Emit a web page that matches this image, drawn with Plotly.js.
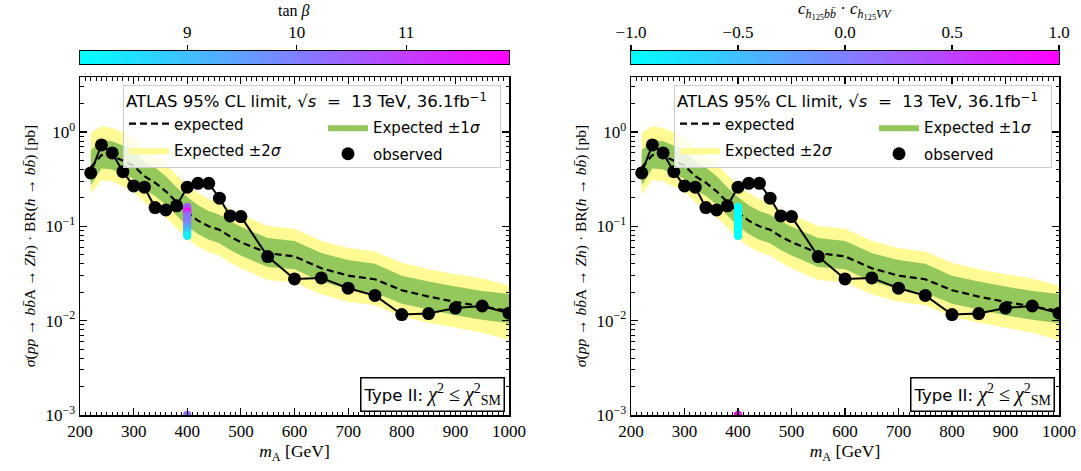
<!DOCTYPE html>
<html><head><meta charset="utf-8">
<script src="https://cdn.plot.ly/plotly-3.0.1.min.js"></script>
<style>
body{margin:0;padding:0;background:#fff;}
#wrap{display:flex;width:1081px;height:471px;}
#left{width:540px;height:471px;}
#right{width:541px;height:471px;}
</style>
</head><body>
<div id="wrap"><div id="left"></div><div id="right"></div></div>
<script>
// ---- data ----
const mA = [220,240,260,280,300,320,340,360,380,400,420,440,460,480,500,550,600,650,700,750,800,850,900,950,1000];
const observed = [0.368,0.73,0.60,0.38,0.268,0.26,0.158,0.149,0.165,0.26,0.286,0.286,0.199,0.129,0.127,0.0478,0.0277,0.0284,0.0221,0.0185,0.0116,0.0119,0.0136,0.0143,0.0120];
const expected = [0.42,0.57,0.56,0.50,0.44,0.34,0.29,0.235,0.18,0.14,0.115,0.10,0.092,0.078,0.068,0.052,0.048,0.036,0.030,0.0275,0.021,0.018,0.0158,0.0142,0.0127];
const sig1Up = [0.64,0.82,0.80,0.72,0.63,0.49,0.42,0.34,0.26,0.205,0.167,0.145,0.133,0.113,0.099,0.075,0.070,0.052,0.044,0.040,0.030,0.026,0.023,0.0206,0.0192];
const sig1Dn = [0.27,0.41,0.40,0.36,0.32,0.245,0.21,0.17,0.13,0.10,0.083,0.072,0.066,0.056,0.049,0.037,0.035,0.026,0.0216,0.0198,0.0151,0.013,0.0114,0.0102,0.0094];
const sig2Up = [0.98,1.15,1.10,0.99,0.87,0.67,0.57,0.46,0.35,0.275,0.225,0.195,0.18,0.152,0.133,0.101,0.094,0.070,0.059,0.054,0.041,0.035,0.031,0.028,0.0235];
const sig2Dn = [0.22,0.31,0.30,0.265,0.233,0.18,0.154,0.125,0.095,0.074,0.061,0.053,0.049,0.041,0.036,0.027,0.0254,0.019,0.0159,0.0146,0.0111,0.0095,0.0084,0.0075,0.0062];

// scan points (all at mA = 400 GeV)
const scanMA = [400,400,400,400,400,400,400,400,400,400,400,400,400,400,400,400,400,400,400,400,400,400];
const scanSigma = [0.161,0.157,0.152,0.148,0.144,0.140,0.136,0.131,0.126,0.121,0.116,0.111,0.106,0.101,0.097,0.093,0.089,0.085,0.082,0.079,0.001,0.001];
const scanTanb = [10.5,10.6,10.5,10.8,11.5,11.8,11.0,10.4,10.2,10.1,10.0,10.2,9.9,9.7,9.5,9.3,9.1,8.9,8.6,8.3,11.9,10.2];
const scanCoupling = [-1,-1,-1,-1,-1,-1,-1,-1,-1,-1,-1,-1,-1,-1,-1,-1,-1,-1,-1,-1,1,1];

const tanbRange = [8.02, 11.94];
const tanbTicks = [9, 10, 11];
const couplingRange = [-1, 1];
const couplingTicks = [-1, -0.5, 0, 0.5, 1];
const xTicks = [200,300,400,500,600,700,800,900,1000];
const yTicks = [0.001, 0.01, 0.1, 1];
const yTickText = ['10<sup>−3</sup>','10<sup>−2</sup>','10<sup>−1</sup>','10<sup>0</sup>'];

// ---- styling ----
const coolScale = [[0,'rgb(0,255,255)'],[1,'rgb(255,0,255)']];
const SERIF = 'Liberation Serif, DejaVu Serif, serif';
const SANS = 'DejaVu Sans, sans-serif';
const H = 471;
const minorY = [];
[0.001,0.01,0.1,1].forEach(d => { for (let k = 2; k <= 9; k++) minorY.push(d*k); });

// pixel helpers for placing the panel inside its own div (margins are zero)
function px(x, W) { return x / W; }
function py(y) { return 1 - y / H; }

function makePanel(div, W, left, right, colorVals, cRange, cTicks, cTickText, cTitle, cTitleSize) {
  const xDom = [px(left, W), px(right, W)];
  const traces = [
    {x: mA, y: sig2Dn, type:'scatter', mode:'lines', line:{width:0, color:'rgba(0,0,0,0)'}, showlegend:false, hoverinfo:'skip'},
    {x: mA, y: sig2Up, type:'scatter', mode:'lines', fill:'tonexty', fillcolor:'rgb(255,250,148)', line:{width:0, color:'rgb(255,250,148)'},
     name:'Expected ±2<i>σ</i>', legend:'legend', legendgroup:'g2', legendrank:2},
    {x: mA, y: sig1Dn, type:'scatter', mode:'lines', line:{width:0, color:'rgba(0,0,0,0)'}, showlegend:false, hoverinfo:'skip'},
    {x: mA, y: sig1Up, type:'scatter', mode:'lines', fill:'tonexty', fillcolor:'rgb(148,200,92)', line:{width:0, color:'rgb(148,200,92)'},
     name:'Expected ±1<i>σ</i>', legend:'legend2', legendgroup:'g3', legendrank:1},
    {x: mA, y: expected, type:'scatter', mode:'lines', line:{color:'black', width:2.2, dash:'7px,4px'},
     name:'expected', legend:'legend', legendgroup:'g1', legendrank:1},
    {x: mA, y: observed, type:'scatter', mode:'lines', line:{color:'black', width:2}, showlegend:false},
    {x: mA, y: observed, type:'scatter', mode:'markers', marker:{color:'black', size:13},
     name:'observed', legend:'legend2', legendgroup:'g4', legendrank:2},
    {x: scanMA, y: scanSigma, type:'scatter', mode:'markers', cliponaxis:true, showlegend:false,
     marker:{size:8, color:colorVals, colorscale:coolScale, cmin:cRange[0], cmax:cRange[1], showscale:false}},
    {type:'heatmap', xaxis:'x2', yaxis:'y2', x:[cRange[0], cRange[1]], y:[0,1],
     z:[[cRange[0], cRange[1]],[cRange[0], cRange[1]]], zsmooth:'best', colorscale:coolScale,
     zmin:cRange[0], zmax:cRange[1], showscale:false, hoverinfo:'skip', showlegend:false}
  ];
  const axLine = {showline:true, linecolor:'black', linewidth:1.5, mirror:'allticks', showgrid:false, zeroline:false};
  const legendFont = {family:SANS, size:15, color:'black'};
  const layout = {
    width: W, height: H,
    margin: {l:0, r:0, t:0, b:0, pad:0},
    paper_bgcolor:'white', plot_bgcolor:'white',
    showlegend: true,
    xaxis: Object.assign({}, axLine, {
      domain:xDom, anchor:'y', range:[200,1000], tickmode:'array', tickvals:xTicks,
      ticks:'inside', ticklen:7, tickwidth:1.2, tickcolor:'black',
      minor:{dtick:10, ticks:'inside', ticklen:3.5, tickwidth:1, tickcolor:'black'},
      tickfont:{family:SERIF, size:17, color:'black'},
      title:{text:'<i>m</i><sub>A</sub> [GeV]', font:{family:SERIF, size:17.5, color:'black'}, standoff:4}
    }),
    yaxis: Object.assign({}, axLine, {
      domain:[py(415), py(77)], anchor:'x', type:'log', range:[-3, 0.583],
      tickmode:'array', tickvals:yTicks, ticktext:yTickText,
      ticks:'inside', ticklen:7, tickwidth:1.2, tickcolor:'black',
      minor:{tickmode:'array', tickvals:minorY, ticks:'inside', ticklen:3.5, tickwidth:1, tickcolor:'black'},
      tickfont:{family:SERIF, size:17, color:'black'},
      title:{text:'<i>σ</i>(<i>pp</i> → <i>b</i><i>b̄</i>A → <i>Zh</i>) · BR(<i>h</i> → <i>bb̄</i>) [pb]', font:{family:SERIF, size:15.5, color:'black'}, standoff:6}
    }),
    xaxis2: {
      domain:xDom, anchor:'y2', side:'top', range:cRange, tickmode:'array', tickvals:cTicks, ticktext:cTickText,
      ticks:'outside', ticklen:5, tickwidth:1.2, tickcolor:'black',
      showline:true, linecolor:'black', linewidth:1.2, mirror:true, showgrid:false, zeroline:false,
      tickfont:{family:SERIF, size:17, color:'black'}
    },
    yaxis2: {
      domain:[py(64), py(51)], anchor:'x2', range:[0,1], showticklabels:false, ticks:'',
      showline:true, linecolor:'black', linewidth:1.2, mirror:true, showgrid:false, zeroline:false
    },
    legend: {
      x: px(left + 43, W), xanchor:'left', y: py(85), yanchor:'top',
      orientation:'v', itemwidth:40, traceorder:'grouped', tracegroupgap:4,
      bgcolor:'rgba(255,255,255,0.8)', bordercolor:'#cccccc', borderwidth:1,
      font:legendFont,
      title:{text:'ATLAS 95% CL limit, √<i>s</i>  =  13 TeV, 36.1fb<sup>−1</sup>  ', side:'top', font:{family:SANS, size:16.5, color:'black'}}
    },
    legend2: {
      x: px(left + 243, W), xanchor:'left', y: py(111), yanchor:'top',
      orientation:'v', itemwidth:40, traceorder:'grouped', tracegroupgap:4,
      bgcolor:'rgba(0,0,0,0)', borderwidth:0,
      font:legendFont
    },
    annotations: [{
      xref:'x domain', yref:'y domain', x:0.99, y:0.01, xanchor:'right', yanchor:'bottom',
      text:'Type II: <span style="font-family:Liberation Serif;font-size:20px"><i>χ</i><sup>2</sup> ≤ <i>χ</i><sup>2</sup><sub>SM</sub></span>',
      showarrow:false, font:{family:SANS, size:16.5, color:'black'},
      bordercolor:'black', borderwidth:1.5, borderpad:2, bgcolor:'white'
    }, {
      xref:'paper', yref:'paper', x:(xDom[0]+xDom[1])/2, y:py(11), xanchor:'center', yanchor:'middle',
      text:cTitle, showarrow:false, font:{family:SERIF, size:cTitleSize, color:'black'}
    }]
  };
  Plotly.newPlot(div, traces, layout, {displayModeBar:false, staticPlot:true});
}

makePanel('left', 540, 80, 509, scanTanb, tanbRange, tanbTicks, tanbTicks.map(String), 'tan <i>β</i>', 16);
makePanel('right', 541, 91, 519, scanCoupling, couplingRange, couplingTicks,
  couplingTicks.map(v => (v < 0 ? '−' : '') + Math.abs(v).toFixed(1)),
  '<i>c</i><sub><i>h</i><sub>125</sub><i>bb̄</i></sub> · <i>c</i><sub><i>h</i><sub>125</sub><i>VV</i></sub>', 17);
</script>
</body></html>
